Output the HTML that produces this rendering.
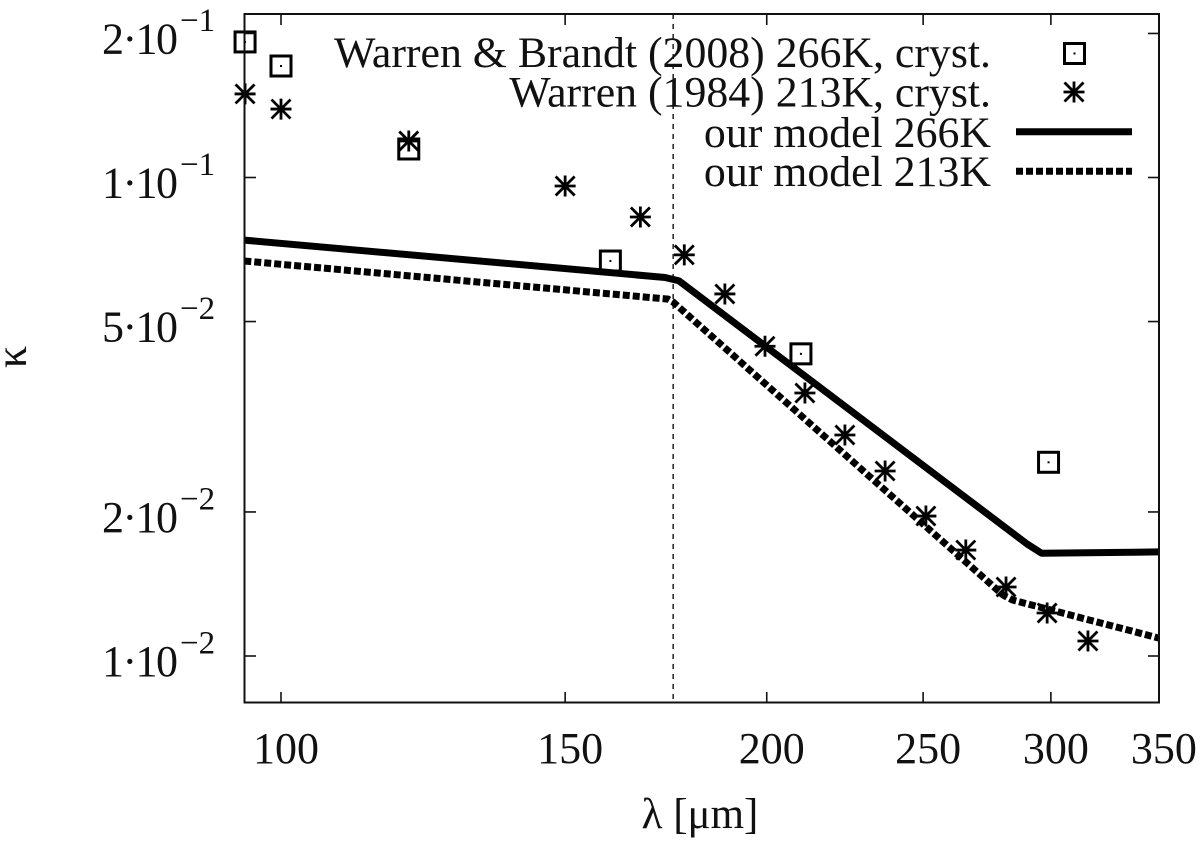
<!DOCTYPE html>
<html lang="en">
<head>
<meta charset="utf-8">
<title>Kappa versus wavelength chart</title>
<style>
html,body{margin:0;padding:0;background:#fff;}
svg{display:block;}
text{font-family:"Liberation Serif","DejaVu Serif",serif;fill:#111;}
</style>
</head>
<body>
<svg id="chart" width="1200" height="842" viewBox="0 0 1200 842" xmlns="http://www.w3.org/2000/svg">
  <rect x="0" y="0" width="1200" height="842" fill="#fff"/>
  <g id="marks"></g>
  <rect x="244.5" y="14" width="914.5" height="688.5" fill="none" stroke="#111" stroke-width="2"/>
  <g id="ticks"></g>
  <text transform="translate(26,357) rotate(-90)" text-anchor="middle" font-size="44">κ</text>
  <text x="700" y="828" text-anchor="middle" font-size="43">λ [μm]</text>
  <g>
    <text x="991" y="67" text-anchor="end" font-size="43.8">Warren &amp; Brandt (2008) 266K, cryst.</text>
    <text x="991" y="106.5" text-anchor="end" font-size="43.8">Warren (1984) 213K, cryst.</text>
    <text x="991" y="147" text-anchor="end" font-size="43.8">our model 266K</text>
    <text x="991" y="186" text-anchor="end" font-size="43.8">our model 213K</text>
    <line x1="1016" y1="131.7" x2="1132" y2="131.7" stroke="#000" stroke-width="7"/>
    <line x1="1016" y1="171.3" x2="1132" y2="171.3" stroke="#000" stroke-width="7" stroke-dasharray="7 3"/>
  </g>
</svg>
<script>
var xTickValues = [100, 150, 200, 250, 300, 350];
var yTickValues = [0.2, 0.1, 0.05, 0.02, 0.01];
var yTickMantissas = ["2", "1", "5", "2", "1"];
var yTickExponents = ["−1", "−1", "−2", "−2", "−2"];

var brandtWavelengths = [95, 100, 120, 160, 210, 299];
var brandtKappa = [0.192, 0.171, 0.1147, 0.0669, 0.0428, 0.0254];
var warrenWavelengths = [95, 100, 120, 150, 167, 177.8, 188.4, 199.5, 211.2, 223.6, 236.8, 251, 265.7, 281.4, 298.4, 316.3];
var warrenKappa = [0.1495, 0.139, 0.1192, 0.096, 0.0827, 0.0689, 0.0571, 0.0444, 0.03545, 0.02896, 0.02436, 0.01961, 0.01665, 0.01394, 0.0123, 0.01075];
var model266Wavelengths = [94.9, 173, 176.5, 290, 296, 350];
var model266Kappa = [0.074, 0.0618, 0.0608, 0.01714, 0.0164, 0.0165];
var model213Wavelengths = [94.9, 173.7, 175, 280.2, 284, 350];
var model213Kappa = [0.0669, 0.0557, 0.0549, 0.01341, 0.01309, 0.0109];
var cutoffWavelength = [175];

var svgNS = "http://www.w3.org/2000/svg";
var xScale = function (v) { return 281 + 1613.6 * Math.log10(v / 100); };
var yScale = function (v) { return 177.5 - 478.5 * Math.log10(v / 0.1); };
var marks = document.getElementById("marks");
var ticks = document.getElementById("ticks");
var chart = document.getElementById("chart");

function make(tag, attrs, parent) {
  var el = document.createElementNS(svgNS, tag);
  for (var k in attrs) { el.setAttribute(k, attrs[k]); }
  parent.appendChild(el);
  return el;
}

function drawTickLine(x1, y1, x2, y2, name) {
  var el = make("line", {x1: x1, y1: y1, x2: x2, y2: y2, stroke: "#111", "stroke-width": 1.6}, ticks);
  
  
}

xTickValues.forEach(function (v) {
  var x = xScale(v);
  if (v < 350) {
    drawTickLine(x, 703, x, 692, 'x-tick-bottom');
    drawTickLine(x, 14, x, 25, 'x-tick-top');
  }
  var t = make("text", {x: x + 5, y: 763, "text-anchor": "middle", "font-size": 44}, ticks);
  
  
  t.textContent = String(v);
});

yTickValues.forEach(function (v, i) {
  var y = yScale(v);
  drawTickLine(244, y, 256, y, 'y-tick-left');
  drawTickLine(1159, y, 1148, y, 'y-tick-right');
  var t = make("text", {x: 102, y: y + 20, "text-anchor": "start", "font-size": 44, textLength: 76, lengthAdjust: "spacing"}, ticks);
  
  
  t.textContent = yTickMantissas[i] + "·10";
  var e = make("text", {x: 180, y: y - 2.5, "text-anchor": "start", "font-size": 33}, ticks);
  
  
  e.textContent = yTickExponents[i];
});

var cutoffLine = make("line", {x1: xScale(cutoffWavelength[0]), y1: 14, x2: xScale(cutoffWavelength[0]), y2: 703, stroke: "#222", "stroke-width": 1.5, "stroke-dasharray": "5 5"}, marks);



function linePoints(xs, ys) {
  return xs.map(function (x, i) { return xScale(x).toFixed(1) + "," + yScale(ys[i]).toFixed(1); }).join(" ");
}

var line266 = make("polyline", {points: linePoints(model266Wavelengths, model266Kappa), fill: "none", stroke: "#000", "stroke-width": 7, "stroke-linejoin": "round"}, marks);



var line213 = make("polyline", {points: linePoints(model213Wavelengths, model213Kappa), fill: "none", stroke: "#000", "stroke-width": 7, "stroke-dasharray": "7 3"}, marks);



function drawSquare(cx, cy, parent) {
  make("rect", {x: cx - 10, y: cy - 10, width: 20, height: 20, fill: "none", stroke: "#000", "stroke-width": 3}, parent);
  make("rect", {x: cx - 1, y: cy - 1, width: 2, height: 2, fill: "#000"}, parent);
}

function drawStar(cx, cy, parent) {
  var d = "M" + (cx - 9.5) + " " + (cy - 9.5) + "L" + (cx + 9.5) + " " + (cy + 9.5) +
          "M" + (cx - 9.5) + " " + (cy + 9.5) + "L" + (cx + 9.5) + " " + (cy - 9.5) +
          "M" + (cx - 10.5) + " " + cy + "L" + (cx + 10.5) + " " + cy +
          "M" + cx + " " + (cy - 10.5) + "L" + cx + " " + (cy + 10.5);
  make("path", {d: d, fill: "none", stroke: "#000", "stroke-width": 2.8}, parent);
}

brandtWavelengths.forEach(function (w, i) {
  var g = make("g", {}, marks);
  
  
  drawSquare(xScale(w), yScale(brandtKappa[i]), g);
});

warrenWavelengths.forEach(function (w, i) {
  var g = make("g", {}, marks);
  
  
  drawStar(xScale(w), yScale(warrenKappa[i]), g);
});

var legendSquare = make("g", {}, chart);


drawSquare(1074.5, 53.5, legendSquare);

var legendStar = make("g", {}, chart);


drawStar(1074, 92, legendStar);
</script>
</body>
</html>
